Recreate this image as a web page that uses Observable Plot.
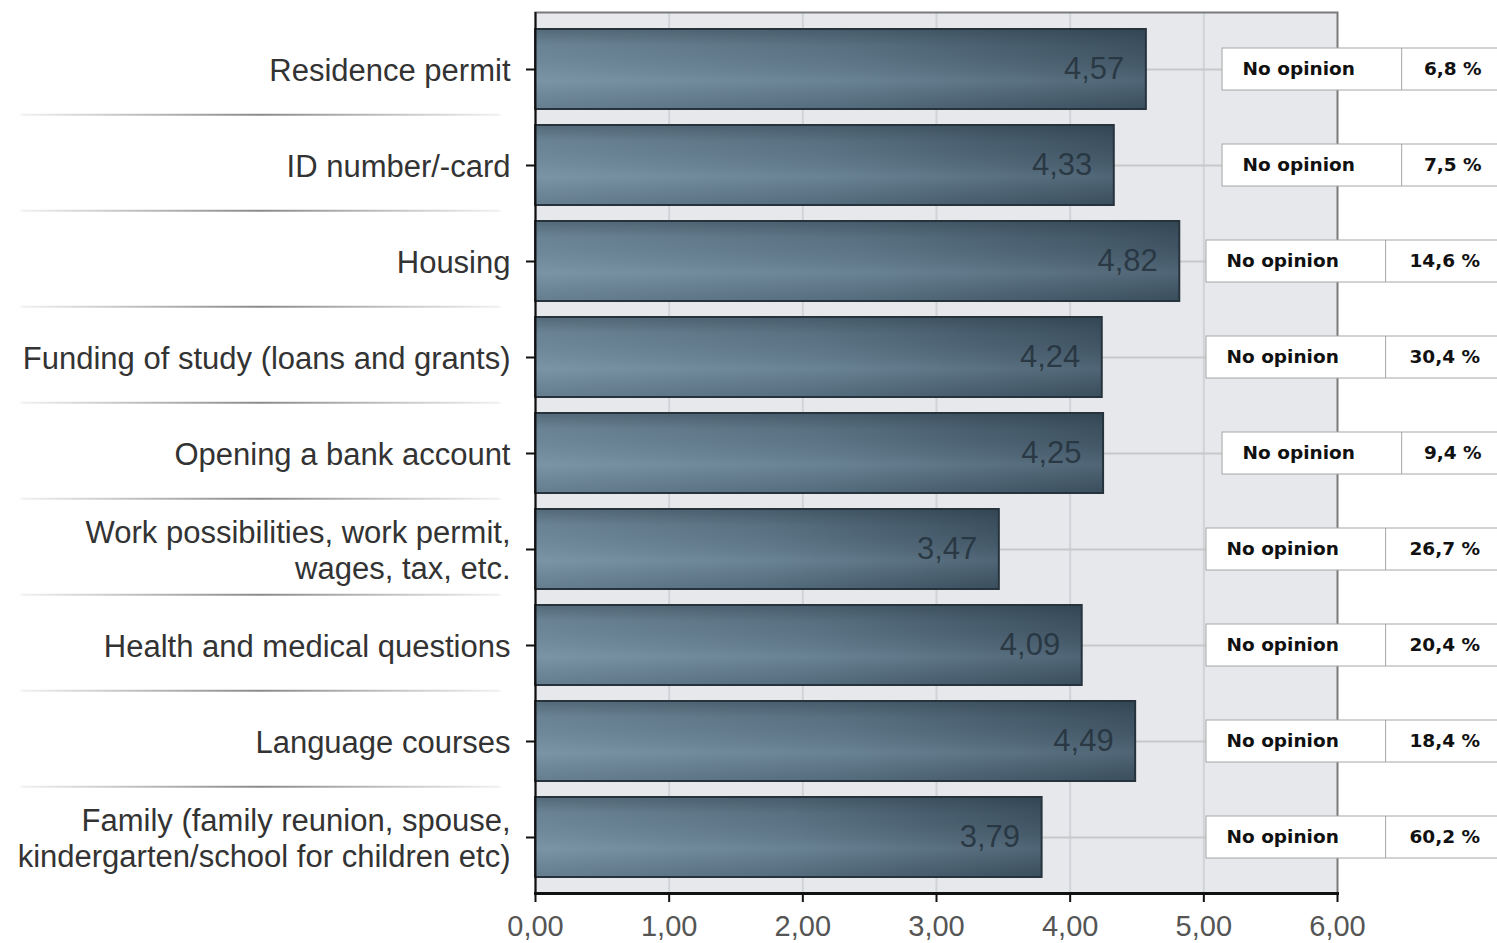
<!DOCTYPE html>
<html><head><meta charset="utf-8">
<script src="https://cdn.jsdelivr.net/npm/d3@7"></script>
<script src="https://cdn.jsdelivr.net/npm/@observablehq/plot@0.6"></script>
<style>body{margin:0;background:#fff;overflow:hidden}</style>
</head><body><div id="chart"></div>
<script>
const categories = [
  "Residence permit",
  "ID number/-card",
  "Housing",
  "Funding of study (loans and grants)",
  "Opening a bank account",
  "Work possibilities, work permit,\nwages, tax, etc.",
  "Health and medical questions",
  "Language courses",
  "Family (family reunion, spouse,\nkindergarten/school for children etc)"
];
const meanScores = [4.57, 4.33, 4.82, 4.24, 4.25, 3.47, 4.09, 4.49, 3.79];
const noOpinionPct = [6.8, 7.5, 14.6, 30.4, 9.4, 26.7, 20.4, 18.4, 60.2];
const noOpinionLabel = "No opinion";
const xTicks = [0, 1, 2, 3, 4, 5, 6];
const gridValues = [1, 2, 3, 4, 5];

const rows = categories.map((c, i) => ({cat: c, mean: meanScores[i], pct: noOpinionPct[i]}));
const comma = v => d3.format(".2f")(v).replace(".", ",");
const pctFmt = v => v.toFixed(1).replace(".", ",") + " %";

// annotation box layout (in x-scale units)
const boxRight = 7.25;
const visibleRight = 7.2;
const pctLeft = d => d.pct < 10 ? 6.48 : 6.36;
const labelLeft = d => pctLeft(d) - 1.34;

const W = 1497, H = 943;
const mTop = 12, mBottom = 50, mLeft = 535, mRight = 160;
const pIn = 0.17, pOut = 0.16;
const step = (H - mTop - mBottom) / (categories.length - pIn + 2 * pOut);

const font = "'Liberation Sans', Arial, sans-serif";
const boxFont = "'DejaVu Sans', Verdana, sans-serif";
const boxInset = 19;

const plot = Plot.plot({
  width: W, height: H,
  marginTop: mTop, marginBottom: mBottom, marginLeft: mLeft, marginRight: mRight,
  style: {fontFamily: font, background: "transparent", overflow: "visible"},
  x: {domain: [0, 6], axis: null},
  y: {domain: categories, paddingInner: pIn, paddingOuter: pOut, axis: null},
  marks: [
    Plot.frame({fill: "#e6e8eb"}),
    Plot.ruleX(gridValues, {stroke: "#d0d3d7", strokeWidth: 2}),
    Plot.frame({stroke: "#7a7a7a", strokeWidth: 2}),
    Plot.ruleY(rows.slice(0, -1), {y: "cat", dy: step / 2 - 3, x1: -3.85, x2: -0.26, stroke: "url(#sepGrad)", strokeWidth: 2}),
    Plot.ruleY(rows, {y: "cat", x1: "mean", x2: d => labelLeft(d), stroke: "#c6c8ca", strokeWidth: 2}),
    Plot.barX(rows, {x: "mean", y: "cat", fill: "url(#barH)", stroke: "#26333d", strokeWidth: 2}),
    Plot.barX(rows, {x: "mean", y: "cat", fill: "url(#barV)", insetTop: 1, insetBottom: 1, insetLeft: 1, insetRight: 1}),
    Plot.text(rows, {x: "mean", y: "cat", text: d => comma(d.mean), textAnchor: "end", dx: -22, fontSize: 31, fill: "#24313b", fillOpacity: 0.85}),
    Plot.barX(rows, {x1: d => labelLeft(d), x2: boxRight, y: "cat", insetTop: boxInset, insetBottom: boxInset, fill: "white", stroke: "#a6a6a6", strokeWidth: 1}),
    Plot.tickX(rows, {x: d => pctLeft(d), y: "cat", insetTop: boxInset, insetBottom: boxInset, stroke: "#a6a6a6", strokeWidth: 1}),
    Plot.text(rows, {x: d => labelLeft(d), y: "cat", text: () => noOpinionLabel, textAnchor: "start", dx: 20, fontFamily: boxFont, fontWeight: "bold", fontSize: 18.5, fill: "#111"}),
    Plot.text(rows, {x: d => (pctLeft(d) + visibleRight) / 2, y: "cat", text: d => pctFmt(d.pct), dx: 3, fontFamily: boxFont, fontWeight: "bold", fontSize: 18.5, fill: "#111"}),
    Plot.ruleX([0], {stroke: "#111", strokeWidth: 2}),
    Plot.frame({anchor: "bottom", stroke: "#111", strokeWidth: 3}),
    Plot.axisX(xTicks, {label: null, tickFormat: comma, tickSize: 9, tickPadding: 13, fontSize: 29, fill: "#555", stroke: "#111", strokeWidth: 2}),
    Plot.axisY({label: null, tickSize: 9, tickPadding: 16, fontSize: 31, lineHeight: 1.16, fill: "#333", stroke: "#111", strokeWidth: 2})
  ]
});

const svg = d3.select(plot.tagName === "svg" ? plot : plot.querySelector("svg"));
const defs = svg.insert("defs", ":first-child");
const gH = defs.append("linearGradient").attr("id", "barH").attr("x1", 0).attr("x2", 1).attr("y1", 0).attr("y2", 0);
gH.append("stop").attr("offset", 0).attr("stop-color", "#748ea0");
gH.append("stop").attr("offset", 0.5).attr("stop-color", "#5f788a");
gH.append("stop").attr("offset", 1).attr("stop-color", "#405565");
const gV = defs.append("linearGradient").attr("id", "barV").attr("x1", 0).attr("x2", 0).attr("y1", 0).attr("y2", 1);
gV.append("stop").attr("offset", 0).attr("stop-color", "#1c2a34").attr("stop-opacity", 0.35);
gV.append("stop").attr("offset", 0.2).attr("stop-color", "#1c2a34").attr("stop-opacity", 0.1);
gV.append("stop").attr("offset", 0.65).attr("stop-color", "#9ab4c4").attr("stop-opacity", 0.18);
gV.append("stop").attr("offset", 1).attr("stop-color", "#1c2a34").attr("stop-opacity", 0.15);
const gS = defs.append("linearGradient").attr("id", "sepGrad").attr("gradientUnits", "userSpaceOnUse").attr("x1", 20).attr("x2", 500).attr("y1", 0).attr("y2", 0);
gS.append("stop").attr("offset", 0).attr("stop-color", "#f2f2f2");
gS.append("stop").attr("offset", 0.5).attr("stop-color", "#8a8a8a");
gS.append("stop").attr("offset", 1).attr("stop-color", "#f2f2f2");

document.getElementById("chart").append(plot);
</script>
</body></html>
